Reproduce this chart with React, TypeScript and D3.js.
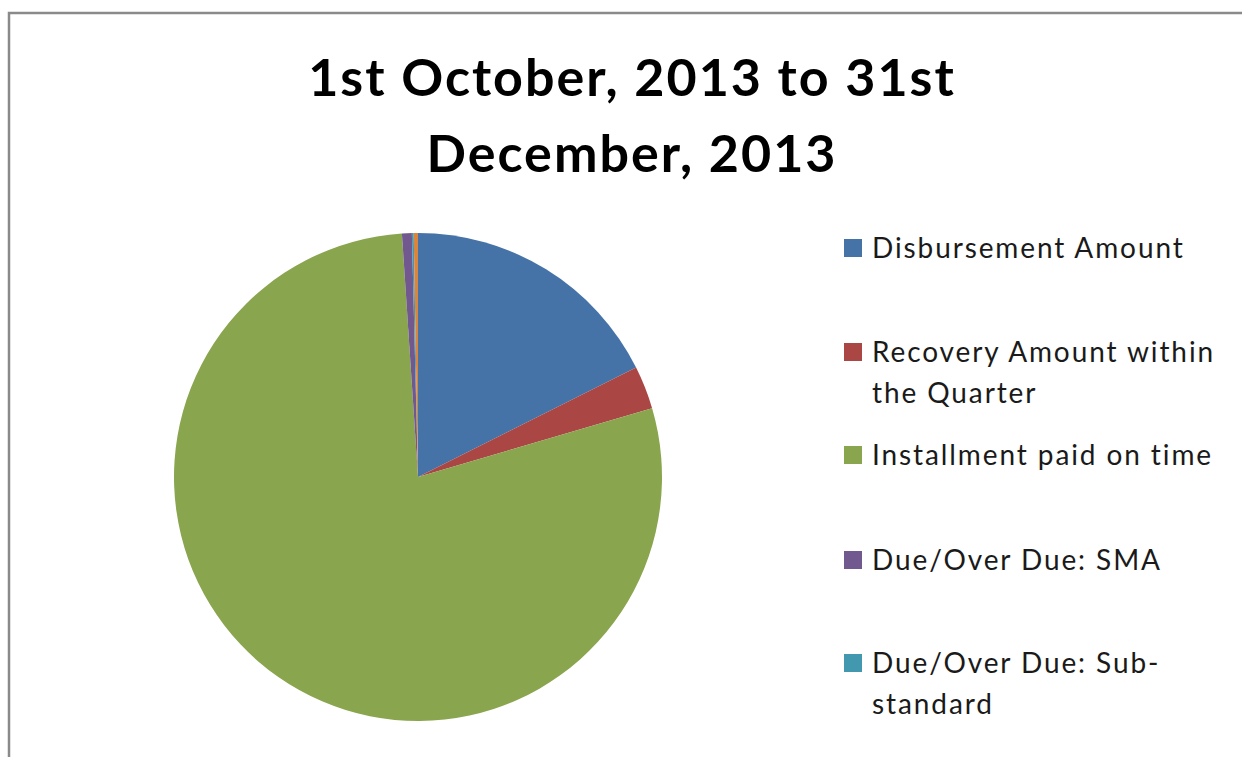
import React from "react";
import * as d3 from "d3";

const categories = [
  "Disbursement Amount",
  "Recovery Amount within the Quarter",
  "Installment paid on time",
  "Due/Over Due: SMA",
  "Due/Over Due: Sub-standard",
  "Due/Over Due: Doubtful",
];
const values = [17.6, 2.85, 78.5, 0.65, 0.12, 0.28];
const colors = ["#4572A7", "#AA4643", "#89A54E", "#71588F", "#4198AF", "#DB843D"];
const legendLines = [
  ["Disbursement Amount"],
  ["Recovery Amount within", "the Quarter"],
  ["Installment paid on time"],
  ["Due/Over Due: SMA"],
  ["Due/Over Due: Sub-", "standard"],
];
const titleLines = ["1st October, 2013 to 31st", "December, 2013"];

export default function App() {
  const W = 1242, H = 757;
  const cx = 418, cy = 477, r = 244;
  const pie = d3.pie<number>().sort(null).value((d) => d);
  const arcs = pie(values);
  const arc = d3.arc<d3.PieArcDatum<number>>().innerRadius(0).outerRadius(r);
  const rowBase = [258, 362, 465, 570, 673];
  const font = "Lato, 'Open Sans', sans-serif";
  return (
    <svg width={W} height={H} style={{ position: "absolute", left: 0, top: 0, display: "block" }}>
      <rect x={0} y={0} width={W} height={H} fill="#fff" />
      <rect x={9} y={13} width={W + 20} height={H + 20} fill="none" stroke="#8a8a8a" strokeWidth={2.5} />
      {titleLines.map((t, i) => (
        <text key={i} x={632} y={96 + i * 76} textAnchor="middle" fontFamily={font} fontWeight="bold" fontSize={52} letterSpacing={2} fill="#000">
          {t}
        </text>
      ))}
      <g transform={`translate(${cx},${cy})`}>
        {arcs.map((a, i) => (
          <path key={categories[i]} d={arc(a) || ""} fill={colors[i]} />
        ))}
      </g>
      {legendLines.map((lines, i) => (
        <g key={i}>
          <rect x={844} y={rowBase[i] - 19} width={18} height={18} fill={colors[i]} />
          {lines.map((l, j) => (
            <text key={j} x={872} y={rowBase[i] + j * 41} fontFamily={font} fontSize={28} letterSpacing={1.9} fill="#1a1a1a">
              {l}
            </text>
          ))}
        </g>
      ))}
    </svg>
  );
}
